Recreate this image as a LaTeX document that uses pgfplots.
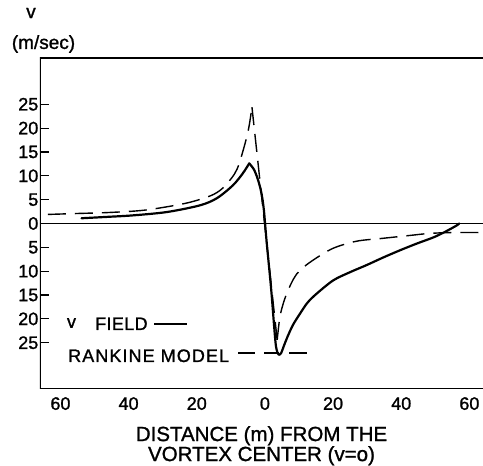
\documentclass[border=0pt]{standalone}
\usepackage{pgfplots}
\pgfplotsset{compat=1.18}
\usepackage{fontspec}
\setmainfont{Liberation Sans}[FakeBold=1.2]

\begin{document}
\begin{tikzpicture}
\useasboundingbox (-40pt,-77pt) rectangle (443pt,389pt);
\begin{axis}[
    at={(0pt,0pt)}, anchor=south west,
    width=443pt, height=331pt, scale only axis,
    xmin=-66, xmax=64, ymin=-34.7, ymax=34.7,
    axis line style={draw=none},
    xtick={-60,-40,...,60},
    xticklabels={60,40,20,0,20,40,60},
    ytick={-25,-20,...,25},
    yticklabels={25,20,15,10,5,0,5,10,15,20,25},
    ytick pos=left, xtick pos=bottom,
    tick align=inside, major tick length=9pt,
    y tick style={line width=1.2pt, black},
    x tick style={draw=none},
    /pgf/number format/assume math mode=true,
    tick label style={font=\fontsize{18}{20}\selectfont},
    yticklabel style={inner sep=1.5pt},
    xticklabel style={inner sep=0pt, yshift=-8pt},
    xlabel={DISTANCE (m) FROM THE\\VORTEX CENTER (v=o)},
    xlabel style={at={(rel axis cs:0.5,0)}, anchor=north, inner sep=0pt,
        yshift=-37pt, align=center, font=\fontsize{20.5}{20}\selectfont},
]
% frame: left, top and bottom only
\draw[line width=1.3pt] (rel axis cs:1,1) -- (rel axis cs:0,1) -- (rel axis cs:0,0) -- (rel axis cs:1,0);
% zero line
\addplot[black, line width=1pt] coordinates {(-66,0) (64,0)};

% field (solid)
\addplot[black, line width=2.2pt, smooth, line cap=round] coordinates {
    (-53.8,1.1) (-46,1.4) (-38.8,1.7) (-28.8,2.4) (-19.1,3.8) (-14.1,5.3)
    (-9.4,8.0) (-6.5,10.5) (-4.6,12.6)
};
\addplot[black, line width=2.2pt, smooth, line cap=round] coordinates {
    (-4.6,12.6) (-3.2,11.3) (-2,9.1) (-1,6.3) (-0.3,2.8) (0.5,-3.8)
    (1.8,-13.5) (2.7,-21.5) (3.2,-25.5) (3.7,-27.1) (4.2,-27.5) (4.8,-27.1)
    (5.6,-25.6) (6.6,-23.8) (8.2,-21.3) (10.3,-18.9) (12.5,-16.6) (15.2,-14.7)
    (20.1,-11.9) (25,-10.2) (29.9,-8.7) (34.8,-7.1) (39.7,-5.6) (44.6,-4.2)
    (49.5,-2.9) (53,-1.7) (56.3,-0.4) (57,0)
};

% Rankine model (dashed)
\addplot[black, line width=1.4pt, smooth, dash pattern=on 18pt off 9pt] coordinates {
    (-63.7,1.9) (-55,2.1) (-46,2.3) (-35.3,2.8) (-23.5,4.2) (-16,5.8)
    (-12.4,7.4) (-9,10.3) (-7.4,12.9) (-5,19.1) (-3.8,24.4)
};
\addplot[black, line width=1.4pt, dash pattern=on 18pt off 9pt] coordinates {
    (-3.8,24.4) (3.6,-24.4)
};
\addplot[black, line width=1.4pt, smooth, dash pattern=on 18pt off 9pt] coordinates {
    (3.6,-24.4) (4.4,-19.6) (5.5,-16.5) (6.8,-14.0) (8.5,-11.5) (10.3,-9.8)
    (14.1,-7.7) (20,-5.2) (27,-3.7) (34.7,-3.1) (42.6,-2.5) (48,-2.1)
    (54.4,-1.9) (63.2,-1.9)
};
\end{axis}

% y axis label
\node[font=\fontsize{19}{20}\selectfont] at (-9pt,376pt) {v};
\node[font=\fontsize{19}{20}\selectfont] at (3.5pt,345pt) {(m/sec)};

% legend
\node[font=\fontsize{18}{20}\selectfont] at (31.5pt,66pt) {v};
\node[font=\fontsize{18}{20}\selectfont\addfontfeature{LetterSpace=2}, anchor=base west, inner sep=0pt] at (55pt,59pt) {FIELD};
\draw[line width=2.2pt] (114pt,65pt) -- (147pt,65pt);
\node[font=\fontsize{18}{20}\selectfont\addfontfeature{LetterSpace=6}, anchor=base west, inner sep=0pt] at (28pt,27pt) {RANKINE MODEL};
\draw[line width=1.4pt] (198pt,36pt) -- (215pt,36pt);
\draw[line width=1.4pt] (224pt,36pt) -- (239pt,36pt);
\draw[line width=1.4pt] (249pt,36pt) -- (267pt,36pt);
\end{tikzpicture}
\end{document}
